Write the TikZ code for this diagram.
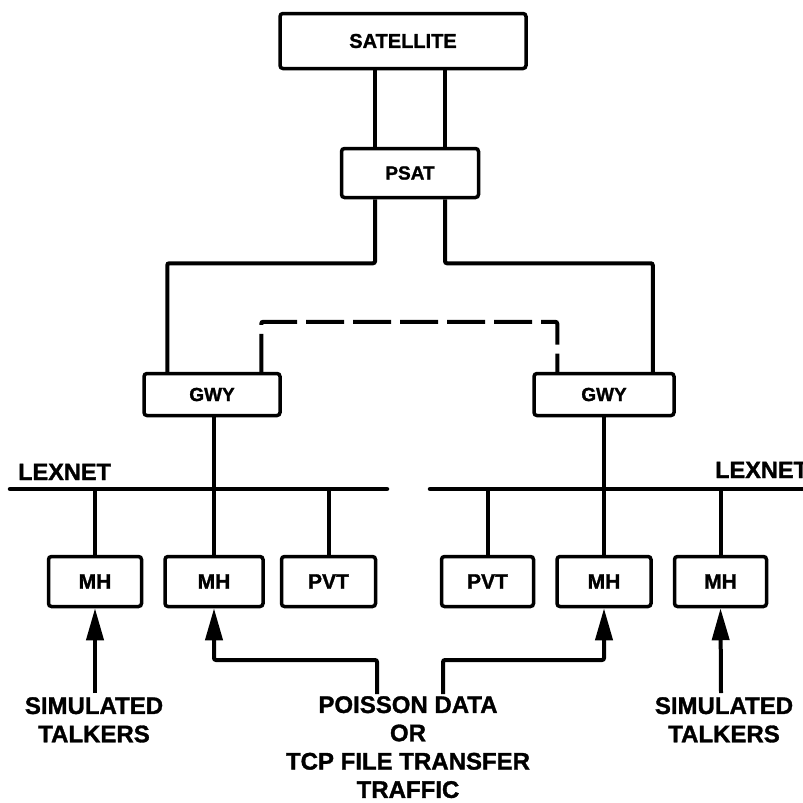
\documentclass[tikz,border=0pt]{standalone}
\usepackage{fontspec}
\setmainfont{Liberation Sans}[BoldFeatures={FakeBold=1.3}]
\usetikzlibrary{arrows.meta}
\begin{document}
\begin{tikzpicture}[x=1pt,y=-1pt,
  box/.style={draw,line width=3.5pt,rounded corners=3pt,inner sep=0pt,
    minimum height=50pt,font=\fontsize{21}{24}\selectfont\bfseries},
  link/.style={line width=4pt,rounded corners=2pt},
  bus/.style={line width=4.5pt,line cap=round},
  dlink/.style={link,dash pattern=on 38pt off 9pt},
  feed/.style={link,-{Triangle[length=32pt,width=17pt]}},
  netlabel/.style={font=\fontsize{23.5}{28}\selectfont\bfseries,inner sep=0pt},
  srclabel/.style={font=\fontsize{24}{28.3}\selectfont\bfseries,align=center,inner sep=0pt,anchor=north}]
\useasboundingbox (0,0) rectangle (803,803);

% satellite link and ground station
\node[box,minimum width=246pt,minimum height=55pt,font=\fontsize{20}{24}\selectfont\bfseries] (sat) at (403,41) {SATELLITE};
\node[box,minimum width=137pt,minimum height=49pt,font=\fontsize{19}{22}\selectfont\bfseries] (psat) at (410,173) {PSAT};
\draw[link] ([xshift=-35pt]psat.north) -- ([xshift=-35pt]psat.north |- sat.south);
\draw[link] ([xshift=35pt]psat.north) -- ([xshift=35pt]psat.north |- sat.south);

% gateways
\node[box,minimum width=136pt,minimum height=42pt,font=\fontsize{19}{22}\selectfont\bfseries] (gwyL) at (212,394.5) {GWY};
\node[box,minimum width=140pt,minimum height=42pt,font=\fontsize{19}{22}\selectfont\bfseries] (gwyR) at (604,394.5) {GWY};
\draw[link] ([xshift=-35pt]psat.south) -- ++(0,64) -| ([xshift=25pt]gwyL.north west);
\draw[link] ([xshift=35pt]psat.south) -- ++(0,64) -| ([xshift=-23pt]gwyR.north east);
\draw[dlink] ([xshift=119pt]gwyL.north west) -- ++(0,-50) -| ([xshift=25pt]gwyR.north west);

% LEXNET buses
\coordinate (busLa) at (10,489);
\coordinate (busLb) at (387,489);
\coordinate (busRa) at (430,489);
\coordinate (busRb) at (815,489);
\draw[bus] (busLa) -- (busLb);
\draw[bus] (busRa) -- (busRb);
\node[netlabel,anchor=base west] (netL) at (18,480) {LEXNET};
\node[netlabel,anchor=base west] (netR) at (715,478) {LEXNET};

% hosts and packet voice terminals
\node[box,minimum width=93pt] (mh1) at (95,581.5) {MH};
\node[box,minimum width=98pt] (mh2) at (214,581.5) {MH};
\node[box,minimum width=94pt] (pvtL) at (328.5,581.5) {PVT};
\node[box,minimum width=92pt] (pvtR) at (487.5,581.5) {PVT};
\node[box,minimum width=94pt] (mh3) at (604,581.5) {MH};
\node[box,minimum width=92pt] (mh4) at (720.5,581.5) {MH};

\draw[link] (gwyL.south -| mh2.north) -- (mh2.north);
\draw[link] (gwyR.south) -- (mh3.north);
\draw[link] (mh1.north) -- (mh1.north |- busLa);
\draw[link] (pvtL.north) -- (pvtL.north |- busLa);
\draw[link] (pvtR.north) -- (pvtR.north |- busRa);
\draw[link] (mh4.north) -- (mh4.north |- busRa);

% traffic sources
\node[srclabel] (talkL) at (94,697) {SIMULATED\\TALKERS};
\node[srclabel] (talkR) at (724,697) {SIMULATED\\TALKERS};
\node[srclabel] (data) at (408,696) {POISSON DATA\\OR\\TCP FILE TRANSFER\\TRAFFIC};

\coordinate (srcT1) at (95,693);
\coordinate (srcT2) at (721,693);
\coordinate (srcD1) at (377,694);
\coordinate (srcD2) at (443,694);
\draw[feed] (srcT1) -- (mh1.south);
\draw[feed] (srcT2) -- (mh4.south);
\draw[feed] (srcD1) -- ++(0,-34) -| (mh2.south);
\draw[feed] (srcD2) -- ++(0,-34) -| (mh3.south);
\end{tikzpicture}
\end{document}
